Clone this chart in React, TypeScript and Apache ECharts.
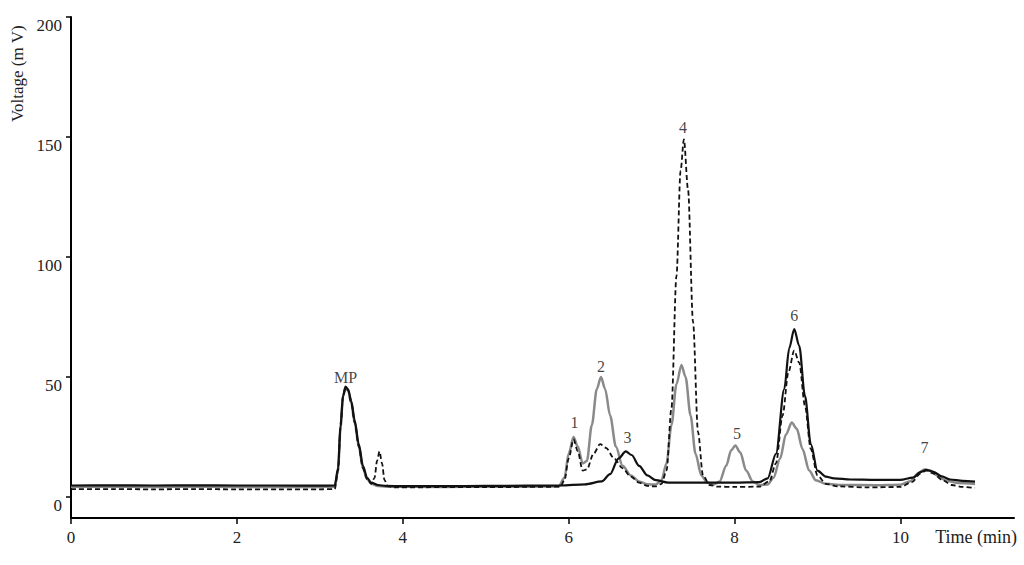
import React, { useEffect, useRef } from "react";
import * as echarts from "echarts";

const xTicks = [0, 2, 4, 6, 8, 10];
const yTicks = [0, 50, 100, 150, 200];

// Black solid trace [time (min), voltage (mV)]
const blackSolid: number[][] = [
  [0, 4.8], [0.5, 4.9], [1, 4.8], [1.5, 4.9], [2, 4.8], [2.5, 4.8], [3.0, 4.7], [3.18, 4.8],
  [3.22, 12], [3.25, 30], [3.28, 42], [3.31, 46], [3.34, 45], [3.38, 40], [3.42, 32], [3.47, 22],
  [3.52, 13], [3.57, 8], [3.62, 6], [3.7, 5], [3.8, 4.6], [4.0, 4.5], [4.5, 4.5], [5.0, 4.6],
  [5.5, 4.7], [5.9, 4.8], [6.2, 5.3], [6.4, 6.5], [6.5, 9.5], [6.6, 16], [6.69, 19], [6.76, 17.5],
  [6.85, 13], [6.95, 9], [7.05, 7], [7.2, 6], [7.6, 6], [8.0, 6], [8.3, 6.2], [8.4, 7.8],
  [8.5, 18], [8.6, 45], [8.66, 62], [8.72, 70], [8.78, 63], [8.85, 42], [8.92, 22], [9.0, 11],
  [9.1, 8.5], [9.2, 7.8], [9.4, 7.3], [9.7, 7.1], [10.0, 7.1], [10.15, 8.1], [10.25, 10.5], [10.31, 11.3],
  [10.4, 10.5], [10.5, 8.6], [10.6, 7.3], [10.75, 6.7], [10.9, 6.4],
];

// Gray solid trace
const graySolid: number[][] = [
  [0, 4.3], [0.5, 4.3], [1, 4.2], [1.5, 4.3], [2, 4.2], [2.5, 4.2], [3.0, 4.2], [3.18, 4.3],
  [3.22, 11], [3.25, 29], [3.28, 42], [3.31, 45.5], [3.34, 44.5], [3.38, 39], [3.42, 31], [3.47, 21],
  [3.52, 12], [3.57, 7.5], [3.62, 5.5], [3.7, 4.6], [3.8, 4.3], [4.5, 4.2], [5.0, 4.3], [5.5, 4.3],
  [5.88, 4.4], [5.95, 8], [6.0, 18], [6.06, 25], [6.11, 21], [6.17, 14], [6.22, 15], [6.28, 30],
  [6.34, 45], [6.39, 50], [6.44, 45], [6.5, 34], [6.57, 21], [6.65, 13], [6.75, 9], [6.85, 6.5],
  [6.95, 5.3], [7.05, 5.2], [7.12, 7], [7.18, 14], [7.24, 30], [7.3, 47], [7.36, 55], [7.41, 50],
  [7.47, 34], [7.53, 18], [7.6, 9], [7.67, 6], [7.75, 5.2], [7.82, 6.5], [7.9, 13], [7.96, 19.5],
  [8.01, 21.5], [8.07, 18.5], [8.14, 11], [8.22, 6.5], [8.3, 5], [8.4, 5.2], [8.47, 8], [8.55, 16],
  [8.62, 26], [8.69, 31], [8.75, 28.5], [8.82, 20], [8.9, 11], [8.98, 7], [9.1, 5.5], [9.3, 5],
  [9.7, 4.9], [10.0, 5.1], [10.12, 6.6], [10.22, 10], [10.29, 11.5], [10.36, 11], [10.45, 8.8], [10.55, 6.8],
  [10.7, 5.8], [10.9, 5.4],
];

// Black dashed trace
const blackDashed: number[][] = [
  [0, 3.3], [0.5, 3.3], [1, 3.2], [1.5, 3.3], [2, 3.2], [2.5, 3.2], [3.0, 3.2], [3.18, 3.3],
  [3.22, 11], [3.25, 29], [3.28, 42], [3.31, 45.5], [3.34, 44.5], [3.38, 39], [3.42, 31], [3.47, 21],
  [3.52, 12], [3.57, 7.5], [3.62, 5.5], [3.66, 8], [3.69, 15], [3.72, 19], [3.75, 14], [3.78, 7],
  [3.82, 4.5], [3.9, 4], [4.5, 4.1], [5.0, 4.1], [5.5, 4.2], [5.9, 4.3], [5.95, 7], [6.0, 16],
  [6.06, 24], [6.11, 19], [6.17, 11], [6.22, 11.5], [6.3, 18], [6.38, 22], [6.45, 20.5], [6.55, 16],
  [6.65, 12], [6.75, 8.5], [6.85, 6], [6.95, 4.6], [7.05, 4.4], [7.12, 5.5], [7.18, 11], [7.24, 37],
  [7.3, 92], [7.35, 136], [7.39, 149], [7.44, 128], [7.5, 73], [7.56, 27], [7.62, 9], [7.7, 5],
  [7.8, 4.3], [8.0, 4.2], [8.3, 4.3], [8.42, 6.5], [8.5, 14], [8.58, 34], [8.65, 52], [8.72, 61],
  [8.78, 56], [8.85, 38], [8.92, 20], [9.0, 9], [9.1, 5.5], [9.25, 4.4], [9.6, 4], [10.0, 4.2],
  [10.14, 6.2], [10.24, 9.8], [10.31, 11], [10.4, 9.8], [10.5, 7.2], [10.62, 5], [10.75, 4.2], [10.9, 3.8],
];

const peakLabels = ["MP", "1", "2", "3", "4", "5", "6", "7"];
const peakLabelPos: number[][] = [
  [3.31, 50], [6.07, 31], [6.39, 54.5], [6.71, 25], [7.38, 154], [8.03, 26.5], [8.72, 75.5], [10.29, 20.5],
];

const FONT = "'Liberation Serif', 'Times New Roman', serif";

export default function App() {
  const ref = useRef<HTMLDivElement>(null);
  useEffect(() => {
    if (!ref.current) return;
    const chart = echarts.init(ref.current, undefined, { renderer: "svg" });
    chart.setOption({
      animation: false,
      backgroundColor: "#ffffff",
      grid: { left: 71, right: 10, top: 17, bottom: 47, containLabel: false },
      xAxis: {
        type: "value",
        min: 0,
        max: 11.37,
        axisLine: { show: true, onZero: false, lineStyle: { color: "#000", width: 2 } },
        axisTick: { show: true, customValues: xTicks, length: 6, lineStyle: { color: "#000", width: 1.5 } },
        axisLabel: {
          customValues: xTicks,
          color: "#222",
          fontFamily: FONT,
          fontSize: 17,
          margin: 11,
        },
        splitLine: { show: false },
      },
      yAxis: {
        type: "value",
        min: -8.75,
        max: 200,
        axisLine: { show: true, onZero: false, lineStyle: { color: "#000", width: 2 } },
        axisTick: { show: true, customValues: yTicks, length: 5, lineStyle: { color: "#000", width: 1.5 } },
        axisLabel: {
          customValues: yTicks,
          color: "#222",
          fontFamily: FONT,
          fontSize: 17,
          margin: 9,
          verticalAlign: "top",
        },
        splitLine: { show: false },
      },
      graphic: [
        {
          type: "text",
          x: 9,
          y: 122,
          rotation: Math.PI / 2,
          style: {
            text: "Voltage (m V)",
            fill: "#222",
            font: `17px ${FONT}`,
          },
        },
        {
          type: "text",
          right: 7,
          top: 528,
          style: {
            text: "Time (min)",
            fill: "#222",
            font: `18px ${FONT}`,
          },
        },
      ],
      series: [
        {
          type: "line",
          name: "gray",
          data: graySolid,
          showSymbol: false,
          smooth: 0.3,
          smoothMonotone: "x",
          lineStyle: { color: "#8a8a8a", width: 2.5 },
          z: 2,
        },
        {
          type: "line",
          name: "dashed",
          data: blackDashed,
          showSymbol: false,
          smooth: 0.3,
          smoothMonotone: "x",
          lineStyle: { color: "#111", width: 1.8, type: [5, 3] },
          z: 3,
        },
        {
          type: "line",
          name: "black",
          data: blackSolid,
          showSymbol: false,
          smooth: 0.3,
          smoothMonotone: "x",
          lineStyle: { color: "#111", width: 2.2 },
          z: 4,
        },
        {
          type: "scatter",
          name: "labels",
          symbolSize: 0,
          data: peakLabelPos.map((p, i) => ({ value: p, name: peakLabels[i] })),
          label: {
            show: true,
            position: "inside",
            formatter: (p: any) => p.name,
            color: "#111",
            fontFamily: FONT,
            fontSize: 16,
          },
          z: 5,
        },
      ],
    });
    return () => chart.dispose();
  }, []);
  return (
    <div
      ref={ref}
      style={{ position: "absolute", left: 0, top: 0, width: 1024, height: 565 }}
    />
  );
}
